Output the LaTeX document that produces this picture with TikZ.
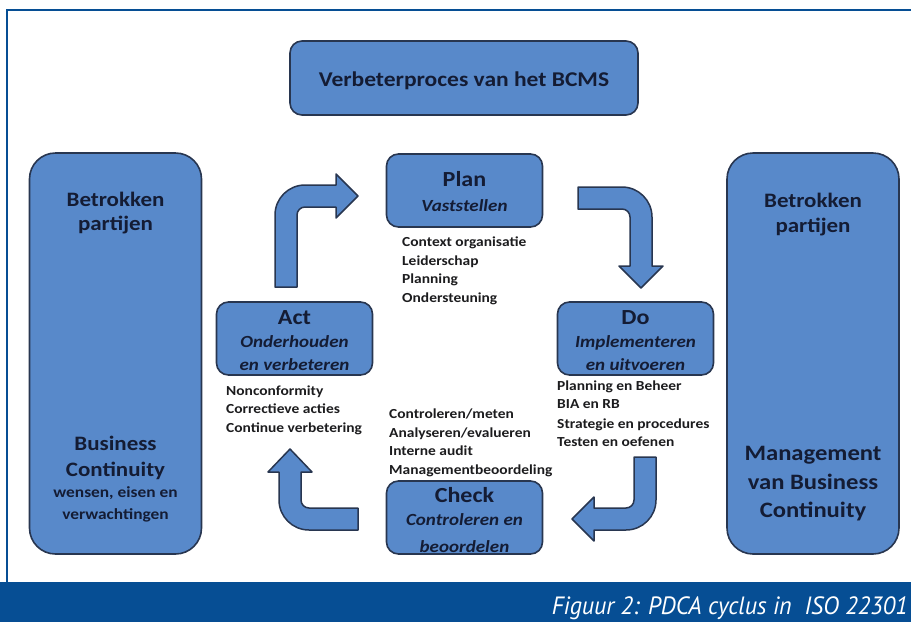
\documentclass[tikz,border=0pt]{standalone}
\usepackage{fontspec}
\setmainfont{Carlito}[FakeStretch=1.12]
\newfontfamily\capfont{PT Sans}[FakeStretch=0.96]
\definecolor{boxblue}{RGB}{88,137,202}
\definecolor{boxline}{RGB}{40,54,80}
\definecolor{frameblue}{RGB}{6,78,148}
\definecolor{ink}{RGB}{20,28,52}
\definecolor{listink}{RGB}{28,28,30}

\begin{document}
\begin{tikzpicture}[x=1pt,y=-1pt,
  box/.style={draw=boxline, fill=boxblue, line width=1.6pt, rounded corners=12pt, inner sep=0pt},
  tallbox/.style={box, rounded corners=26pt, minimum width=172pt, minimum height=401pt},
  pdca/.style={box, minimum width=156pt, minimum height=73pt},
  head/.style={font=\fontsize{21.5}{24}\bfseries\selectfont, text=ink, anchor=base, inner sep=0pt},
  sub/.style={font=\fontsize{17}{20}\bfseries\itshape\selectfont, text=ink, anchor=base, inner sep=0pt},
  big/.style={font=\fontsize{20.5}{24}\bfseries\selectfont, text=ink, anchor=base, inner sep=0pt},
  small/.style={font=\fontsize{15.5}{18}\bfseries\selectfont, text=ink, anchor=base, inner sep=0pt},
  item/.style={font=\fontsize{13.8}{16}\bfseries\selectfont, text=listink, anchor=base west, inner sep=0pt},
  blockarrow/.style={draw=boxline, fill=boxblue, line width=1.5pt, line join=round}
]
\useasboundingbox (0,0) rectangle (911,622);
\fill[white] (0,0) rectangle (911,622);

% frame and caption bar
\fill[frameblue] (0,582) rectangle (911,622);
\draw[frameblue, line width=2.6pt] (7,582) -- (7,10) -- (915,10);
\node[font=\capfont\itshape\fontsize{25}{28}\selectfont, text=white, anchor=base east, inner sep=0pt]
  (caption) at (908,614) {Figuur 2: PDCA cyclus in\ \ ISO 22301};

% title box
\node[box, minimum width=348pt, minimum height=74pt] (title) at (464,78) {};
\node[font=\fontsize{21}{24}\bfseries\selectfont, text=ink, anchor=base, inner sep=0pt]
  (titletext) at (464,86) {Verbeterproces van het BCMS};

% side boxes
\node[tallbox] (left) at (115.5,353.5) {};
\node[big] (l1) at (115.5,206) {Betrokken};
\node[big] (l2) at (115.5,230) {partijen};
\node[big] (l3) at (115.5,450) {Business};
\node[big] (l4) at (115.5,476) {Continuity};
\node[small] (l5) at (115.5,497) {wensen, eisen en};
\node[small] (l6) at (115.5,519) {verwachtingen};

\node[tallbox] (right) at (813,353.5) {};
\node[big] (r1) at (813,207) {Betrokken};
\node[big] (r2) at (813,232) {partijen};
\node[big, font=\fontsize{22}{24}\bfseries\selectfont] (r3) at (813,460) {Management};
\node[big, font=\fontsize{22}{24}\bfseries\selectfont] (r4) at (813,489) {van Business};
\node[big, font=\fontsize{22}{24}\bfseries\selectfont] (r5) at (813,517) {Continuity};

% PDCA boxes
\node[pdca] (plan) at (464.5,190.5) {};
\node[head] (planh) at (464.5,186) {Plan};
\node[sub] (plans) at (464.5,211) {Vaststellen};

\node[pdca] (act) at (294.5,338.5) {};
\node[head] (acth) at (294.5,324) {Act};
\node[sub] (acts1) at (294.5,347) {Onderhouden};
\node[sub] (acts2) at (294.5,370) {en verbeteren};

\node[pdca] (do) at (635.5,338.5) {};
\node[head] (doh) at (635.5,324) {Do};
\node[sub] (dos1) at (635.5,347) {Implementeren};
\node[sub] (dos2) at (635.5,370) {en uitvoeren};

\node[pdca] (check) at (464.5,517.5) {};
\node[head] (checkh) at (464.5,502) {Check};
\node[sub] (checks1) at (464.5,525) {Controleren en};
\node[sub] (checks2) at (464.5,552) {beoordelen};

% activity lists
\node[item] (p1) at (402,246) {Context organisatie};
\node[item] (p2) at (402,265) {Leiderschap};
\node[item] (p3) at (402,283) {Planning};
\node[item] (p4) at (402,302) {Ondersteuning};

\node[item] (a1) at (226,395) {Nonconformity};
\node[item] (a2) at (226,413) {Correctieve acties};
\node[item] (a3) at (226,432) {Continue verbetering};

\node[item] (c1) at (389,418) {Controleren/meten};
\node[item] (c2) at (389,437) {Analyseren/evalueren};
\node[item] (c3) at (389,455) {Interne audit};
\node[item] (c4) at (389,474) {Managementbeoordeling};

\node[item] (d1) at (557,390) {Planning en Beheer};
\node[item] (d2) at (557,408) {BIA en RB};
\node[item] (d3) at (557,428) {Strategie en procedures};
\node[item] (d4) at (557,446) {Testen en oefenen};

% bent block arrows of the cycle
% Act -> Plan
\draw[blockarrow] (275,287) -- (275,215) arc[start angle=180,end angle=270,radius=30]
  -- (336,185) -- (336,174) -- (358,196) -- (336,218) -- (336,207)
  -- (305,207) arc[start angle=270,end angle=180,radius=8] -- (297,287) -- cycle;
% Plan -> Do
\draw[blockarrow] (578,187) -- (622,187) arc[start angle=270,end angle=360,radius=30]
  -- (652,266) -- (663,266) -- (641,288) -- (619,266) -- (630,266)
  -- (630,217) arc[start angle=0,end angle=-90,radius=8] -- (578,209) -- cycle;
% Do -> Check
\draw[blockarrow] (656,457) -- (656,500) arc[start angle=0,end angle=90,radius=30]
  -- (594,530) -- (594,541) -- (572,519) -- (594,497) -- (594,508)
  -- (626,508) arc[start angle=90,end angle=0,radius=8] -- (634,457) -- cycle;
% Check -> Act
\draw[blockarrow] (358,530) -- (309,530) arc[start angle=90,end angle=180,radius=30]
  -- (279,472) -- (268,472) -- (290,449) -- (312,472) -- (301,472)
  -- (301,500) arc[start angle=180,end angle=90,radius=8] -- (358,508) -- cycle;
\end{tikzpicture}
\end{document}
